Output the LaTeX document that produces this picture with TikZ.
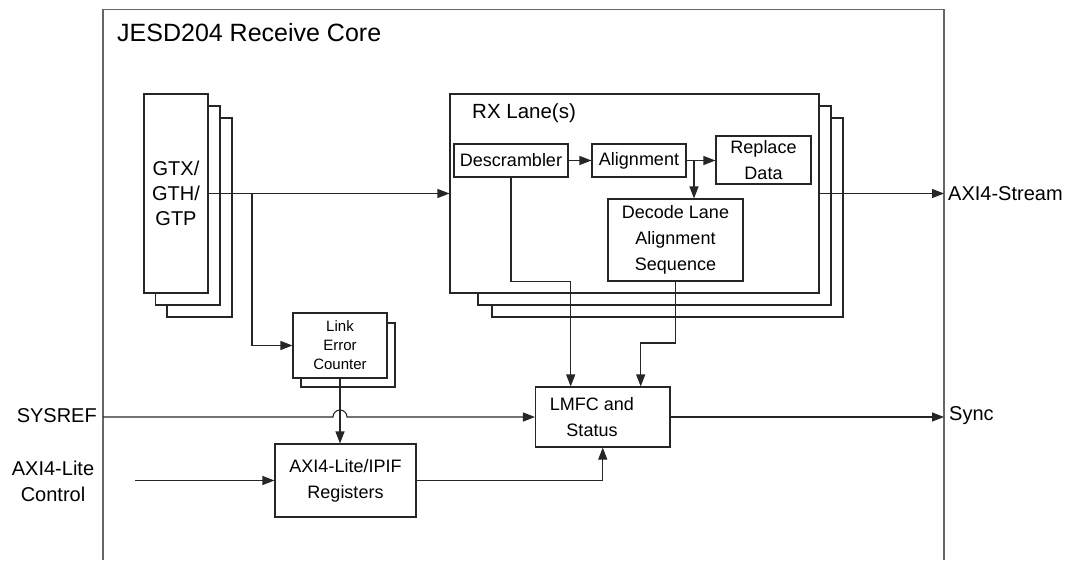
\documentclass[tikz,border=0pt]{standalone}
\usepackage{fontspec}
\setmainfont{Liberation Sans}
\usetikzlibrary{arrows.meta,calc}
\tikzset{
  blk/.style={draw=black!85, line width=1.1pt, inner sep=0pt, fill=white},
  back/.style={draw=black!85, line width=1.1pt},
  conn/.style={draw=black!85, line width=1.1pt},
  arr/.style={conn, -{Triangle[length=12pt,width=9pt]}},
  lbl/.style={inner sep=0pt, font=\fontsize{20}{26}\selectfont},
  intext/.style={inner sep=0pt, align=center, font=\fontsize{18}{26}\selectfont}
}
\begin{document}
\begin{tikzpicture}[x=1pt,y=-1pt]
\useasboundingbox (0,0) rectangle (1071,560);
% outer core frame
\draw[draw=black!60, line width=1.1pt] (103,560) -- (103,9.5) -- (944,9.5) -- (944,560);
\node[anchor=base west, inner sep=0pt, font=\fontsize{25}{30}\selectfont] (title) at (117,41.7) {JESD204 Receive Core};

% GTX stack
\draw[back] (155.7,293) -- (155.7,305) -- (220,305) -- (220,106) -- (208,106);
\draw[back] (167,305) -- (167,317) -- (232,317) -- (232,118) -- (220,118);
\node[blk, minimum width=64pt, minimum height=199pt, align=center,
      font=\fontsize{20}{25}\selectfont] (gtx) at (176,193.5) {GTX/\\GTH/\\GTP};

% RX lane stack
\draw[back] (478,293) -- (478,305) -- (831,305) -- (831,106) -- (819,106);
\draw[back] (492,305) -- (492,317) -- (843,317) -- (843,118) -- (831,118);
\node[blk, minimum width=369pt, minimum height=199pt] (rx) at (634.5,193.5) {};
\node[lbl, anchor=west, font=\fontsize{20.5}{26}\selectfont] (rxt) at (472,113) {RX Lane(s)};

\node[blk, minimum width=114pt, minimum height=33pt, intext] (desc) at (511,160.5) {Descrambler};
\node[blk, minimum width=94pt, minimum height=33pt, intext] (align) at (639,160.5) {Alignment};
\node[blk, minimum width=95pt, minimum height=48pt, intext] (repl) at (763.5,160) {Replace\\Data};
\node[blk, minimum width=135pt, minimum height=82pt, intext] (dec) at (675.5,240) {Decode Lane\\Alignment\\Sequence};

% Link error counter
\draw[back] (301,378) -- (301,387) -- (395,387) -- (395,323) -- (387,323);
\node[blk, minimum width=94pt, minimum height=65pt, align=center,
      font=\fontsize{15}{19}\selectfont] (lec) at (340,345.5) {Link\\Error\\Counter};

% registers
\node[blk, minimum width=141pt, minimum height=73pt, intext] (reg) at (345.5,480.5) {AXI4-Lite/IPIF\\Registers};

% LMFC
\node[blk, minimum width=134.5pt, minimum height=60pt] (lmfc) at (602.75,417) {};
\node[intext] (lmfct) at (592,417) {LMFC and\\Status};

% external labels
\node[lbl, anchor=east] (sysref) at (97,415.5) {SYSREF};
\node[lbl, align=center] (axil) at (53,481) {AXI4-Lite\\Control};
\node[lbl, anchor=west] (axis) at (948,194) {AXI4-Stream};
\node[lbl, anchor=west] (sync) at (949,416) {Sync};

% coordinates
\coordinate (br) at (252,193.5);
\coordinate (ab) at (694,160.5);
\coordinate (j1) at (570.7,281.7);
\coordinate (j2) at (640.7,343);
\coordinate (axisin) at (944,193.5);
\coordinate (syncout) at (944,417);
\coordinate (sysin) at (103,417);
\coordinate (ctlin) at (135,480.5);

% connectors
\draw[arr] (gtx.east) -- (gtx.east -| rx.west);
\draw[arr] (br) |- (lec.west);
\draw[arr] (desc.east) -- (align.west);
\draw[arr] (align.east) -- (repl.west |- align.east);
\draw[arr] (ab) -- (ab |- dec.north);
\draw[arr] (rx.east) -- (axisin);
\draw[arr] (desc.south) |- (j1) -- (j1 |- lmfc.north);
\draw[arr] (dec.south) |- (j2) -- (j2 |- lmfc.north);
\draw[arr] (lec.south) -- (lec.south |- reg.north);
\draw[arr] (sysin) -- (333,417) arc[start angle=180, end angle=360, radius=7] -- (lmfc.west);
\draw[arr] (ctlin) -- (reg.west);
\draw[arr] (reg.east) -| (lmfc.south);
\draw[arr] (lmfc.east) -- (syncout);
\end{tikzpicture}
\end{document}
